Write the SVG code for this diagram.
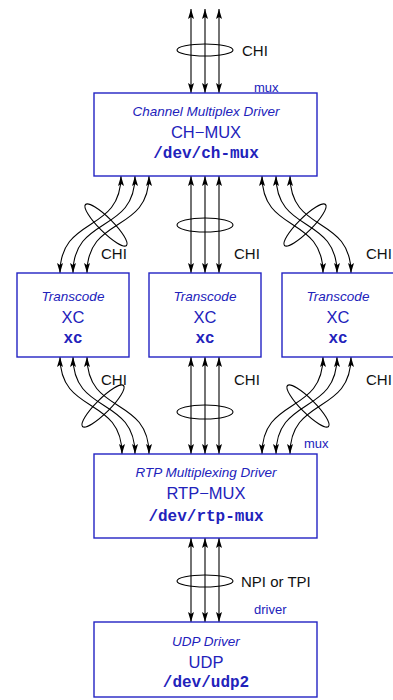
<svg xmlns="http://www.w3.org/2000/svg" width="393" height="700" viewBox="0 0 393 700">
<style>
.box{fill:#fff;stroke:#2323c3;stroke-width:1.4}
.it{font-family:"Liberation Sans",Arial,sans-serif;font-style:italic;font-size:13.5px;fill:#2222bb;text-anchor:middle}
.rg{font-family:"Liberation Sans",Arial,sans-serif;font-size:16.5px;fill:#2222bb;text-anchor:middle}
.mo{font-family:"Liberation Mono","Courier New",monospace;font-weight:bold;font-size:16px;fill:#2222bb;text-anchor:middle}
.lb{font-family:"Liberation Sans",Arial,sans-serif;font-size:15px;fill:#111}
.sm{font-family:"Liberation Sans",Arial,sans-serif;font-size:13px;fill:#2222bb}
.ar{fill:none;stroke:#000;stroke-width:1.1;marker-start:url(#ah);marker-end:url(#ah)}
.el{fill:none;stroke:#000;stroke-width:1.1}
</style>
<defs>
<marker id="ah" markerUnits="userSpaceOnUse" markerWidth="10" markerHeight="6" viewBox="0 0 10 6" refX="10" refY="3" orient="auto-start-reverse">
<path d="M0,0 L10,3 L0,6 L2,3 z" fill="#000"/>
</marker>
</defs>
<g id="connectors">
<path class="ar" d="M191,9 V93"/><path class="ar" d="M205,9 V93"/><path class="ar" d="M219,9 V93"/>
<ellipse class="el" cx="205" cy="50" rx="28" ry="6"/>
<path class="ar" d="M121,176 C121,234 60,215 60,273"/>
<path class="ar" d="M135,176 C135,234 73,215 73,273"/>
<path class="ar" d="M149,176 C149,234 87,215 87,273"/>
<ellipse class="el" cx="106" cy="225" rx="29" ry="7" transform="rotate(45 106 225)"/>
<path class="ar" d="M191,176 V273"/><path class="ar" d="M205,176 V273"/><path class="ar" d="M219,176 V273"/>
<ellipse class="el" cx="205" cy="225" rx="28" ry="7"/>
<path class="ar" d="M262,176 C262,234 323,215 323,273"/>
<path class="ar" d="M276,176 C276,234 337,215 337,273"/>
<path class="ar" d="M290,176 C290,234 351,215 351,273"/>
<ellipse class="el" cx="305" cy="225" rx="29" ry="7" transform="rotate(-45 305 225)"/>
<path class="ar" d="M60,357 C60,415 122,396 122,454"/>
<path class="ar" d="M73,357 C73,415 135,396 135,454"/>
<path class="ar" d="M87,357 C87,415 149,396 149,454"/>
<ellipse class="el" cx="103" cy="406" rx="29" ry="7" transform="rotate(-45 103 406)"/>
<path class="ar" d="M191,357 V454"/><path class="ar" d="M205,357 V454"/><path class="ar" d="M219,357 V454"/>
<ellipse class="el" cx="205" cy="412" rx="28" ry="7"/>
<path class="ar" d="M323,357 C323,415 262,396 262,454"/>
<path class="ar" d="M337,357 C337,415 276,396 276,454"/>
<path class="ar" d="M351,357 C351,415 290,396 290,454"/>
<ellipse class="el" cx="308" cy="406" rx="29" ry="7" transform="rotate(45 308 406)"/>
<path class="ar" d="M191,538 V622"/><path class="ar" d="M205,538 V622"/><path class="ar" d="M219,538 V622"/>
<ellipse class="el" cx="205" cy="581" rx="28" ry="6"/>
<text class="lb" x="242" y="56">CHI</text>
<text class="lb" x="101" y="259">CHI</text>
<text class="lb" x="234" y="259">CHI</text>
<text class="lb" x="366" y="259">CHI</text>
<text class="lb" x="101" y="385">CHI</text>
<text class="lb" x="234" y="385">CHI</text>
<text class="lb" x="366" y="385">CHI</text>
<text class="lb" x="241" y="587">NPI or TPI</text>
<text class="sm" x="254" y="92">mux</text>
<text class="sm" x="304" y="448">mux</text>
<text class="sm" x="254" y="614">driver</text>
</g>
<g id="ch-mux">
<rect class="box" x="94" y="93" width="223" height="83"/>
<text class="it" x="206" y="116">Channel Multiplex Driver</text>
<text class="rg" x="206" y="138">CH−MUX</text>
<text class="mo" x="206" y="158">/dev/ch-mux</text>
</g>
<g id="xc-left">
<rect class="box" x="17" y="273" width="112" height="84"/>
<text class="it" x="73" y="301">Transcode</text>
<text class="rg" x="73" y="323">XC</text>
<text class="mo" x="73" y="343">xc</text>
</g>
<g id="xc-mid">
<rect class="box" x="149" y="273" width="112" height="84"/>
<text class="it" x="205" y="301">Transcode</text>
<text class="rg" x="205" y="323">XC</text>
<text class="mo" x="205" y="343">xc</text>
</g>
<g id="xc-right">
<rect class="box" x="282" y="273" width="112" height="84"/>
<text class="it" x="338" y="301">Transcode</text>
<text class="rg" x="338" y="323">XC</text>
<text class="mo" x="338" y="343">xc</text>
</g>
<g id="rtp-mux">
<rect class="box" x="94" y="454" width="223" height="84"/>
<text class="it" x="206" y="477">RTP Multiplexing Driver</text>
<text class="rg" x="206" y="499">RTP−MUX</text>
<text class="mo" x="206" y="521">/dev/rtp-mux</text>
</g>
<g id="udp">
<rect class="box" x="94" y="622" width="223" height="75"/>
<text class="it" x="206" y="646">UDP Driver</text>
<text class="rg" x="206" y="668">UDP</text>
<text class="mo" x="206" y="687">/dev/udp2</text>
</g>
</svg>
